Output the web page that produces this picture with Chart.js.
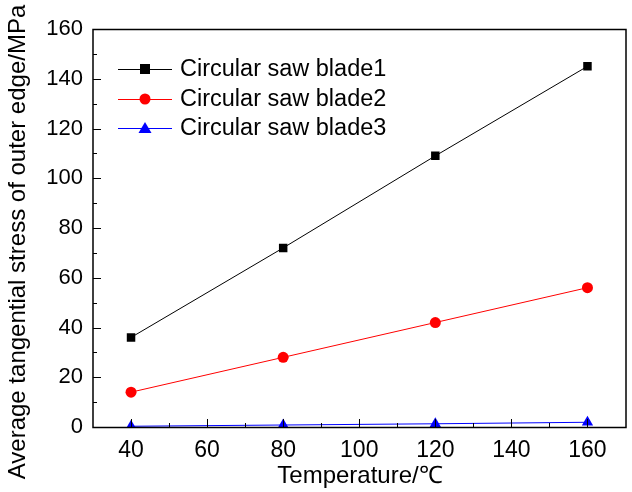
<!DOCTYPE html>
<html>
<head>
<meta charset="utf-8">
<script src="https://cdn.jsdelivr.net/npm/chart.js@4"></script>
<style>
  html, body { margin: 0; padding: 0; background: #fff; }
  #wrap { width: 632px; height: 492px; }
</style>
</head>
<body>
<div id="wrap"><canvas id="stressChart"></canvas></div>
<script>
const temps = [40, 80, 120, 160];
const blade1 = [36, 72, 109, 145];
const blade2 = [14, 28, 42, 56];
const blade3 = [0.3, 0.8, 1.3, 1.9];
const seriesNames = ['Circular saw blade1', 'Circular saw blade2', 'Circular saw blade3'];
const xTicks = [40, 60, 80, 100, 120, 140, 160];
const yTicks = [0, 20, 40, 60, 80, 100, 120, 140, 160];
const xTitle = 'Temperature/℃';
const yTitle = 'Average tangential stress of outer edge/MPa';

const FONT = 'Liberation Sans, Arial, sans-serif';

function pts(vals) {
  return temps.map((t, i) => ({ x: t, y: vals[i] }));
}

// inward major/minor ticks, frame, axis titles and legend
const framePlugin = {
  id: 'frame',
  afterDatasetsDraw(c) {
    const ctx = c.ctx;
    const a = c.chartArea;
    const xs = c.scales.x, ys = c.scales.y;
    ctx.save();
    ctx.strokeStyle = '#000';
    ctx.lineWidth = 1;
    ctx.beginPath();
    for (let v = 30; v <= 170; v += 10) {
      const px = Math.round(xs.getPixelForValue(v)) + 0.5;
      const len = v % 20 === 0 ? 8 : 4;
      if (px <= a.left + 1 || px >= a.right - 1) continue;
      ctx.moveTo(px, a.bottom);
      ctx.lineTo(px, a.bottom - len);
    }
    for (let v = 0; v <= 160; v += 10) {
      const py = Math.round(ys.getPixelForValue(v)) + 0.5;
      const len = v % 20 === 0 ? 8 : 4;
      ctx.moveTo(a.left, py);
      ctx.lineTo(a.left + len, py);
    }
    ctx.stroke();
    ctx.lineWidth = 1.5;
    ctx.strokeRect(Math.round(a.left), Math.round(a.top) + 0.5,
      Math.round(a.right - a.left), Math.round(a.bottom - a.top));

    // axis titles
    ctx.fillStyle = '#000';
    ctx.font = '24px ' + FONT;
    ctx.textAlign = 'center';
    ctx.textBaseline = 'alphabetic';
    ctx.fillText(xTitle, 360, 483);
    ctx.textBaseline = 'middle';
    ctx.save();
    ctx.translate(18, 242);
    ctx.rotate(-Math.PI / 2);
    ctx.fillText(yTitle, 0, 0);
    ctx.restore();

    // legend
    const rows = [69, 99, 128];
    c.data.datasets.forEach((ds, i) => {
      const y = rows[i];
      ctx.strokeStyle = ds.borderColor;
      ctx.lineWidth = 1;
      ctx.beginPath();
      ctx.moveTo(118, y + 0.5);
      ctx.lineTo(172, y + 0.5);
      ctx.stroke();
      ctx.fillStyle = ds.pointBackgroundColor;
      const cx = 145;
      ctx.beginPath();
      if (ds.pointStyle === 'rect') {
        ctx.rect(cx - 5, y - 5, 10, 10);
      } else if (ds.pointStyle === 'circle') {
        ctx.arc(cx, y, 5.5, 0, Math.PI * 2);
      } else {
        ctx.moveTo(cx, y - 6);
        ctx.lineTo(cx + 6.5, y + 5);
        ctx.lineTo(cx - 6.5, y + 5);
        ctx.closePath();
      }
      ctx.fill();
      ctx.fillStyle = '#000';
      ctx.font = '23.5px ' + FONT;
      ctx.textBaseline = 'middle';
      ctx.textAlign = 'left';
      ctx.fillText(ds.label, 180, y + 1);
    });
    ctx.restore();
  }
};

new Chart(document.getElementById('stressChart'), {
  type: 'scatter',
  data: {
    datasets: [
      {
        label: seriesNames[0], data: pts(blade1), showLine: true,
        borderColor: '#000', backgroundColor: '#000', pointBackgroundColor: '#000',
        borderWidth: 1, pointStyle: 'rect', pointRadius: 6, pointBorderWidth: 0
      },
      {
        label: seriesNames[1], data: pts(blade2), showLine: true,
        borderColor: '#ff0000', backgroundColor: '#ff0000', pointBackgroundColor: '#ff0000',
        borderWidth: 1, pointStyle: 'circle', pointRadius: 5.5, pointBorderWidth: 0
      },
      {
        label: seriesNames[2], data: pts(blade3), showLine: true,
        borderColor: '#0000ff', backgroundColor: '#0000ff', pointBackgroundColor: '#0000ff',
        borderWidth: 1, pointStyle: 'triangle', pointRadius: 6.5, pointBorderWidth: 0
      }
    ]
  },
  options: {
    responsive: true,
    maintainAspectRatio: false,
    animation: false,
    layout: { padding: { top: 29, right: 5, left: 0, bottom: 0 } },
    plugins: { legend: { display: false }, tooltip: { enabled: false } },
    scales: {
      x: {
        type: 'linear', min: 30, max: 170,
        afterBuildTicks: s => { s.ticks = xTicks.map(v => ({ value: v })); },
        afterFit: s => { s.height = 65; },
        grid: { display: false, drawTicks: false },
        border: { display: false },
        ticks: { color: '#000', font: { family: FONT, size: 23 }, padding: 10, maxRotation: 0 }
      },
      y: {
        type: 'linear', min: 0, max: 160,
        afterBuildTicks: s => { s.ticks = yTicks.map(v => ({ value: v })); },
        afterFit: s => { s.width = 93; },
        grid: { display: false, drawTicks: false },
        border: { display: false },
        ticks: { color: '#000', font: { family: FONT, size: 22 }, padding: 10 }
      }
    }
  },
  plugins: [framePlugin]
});
</script>
</body>
</html>
